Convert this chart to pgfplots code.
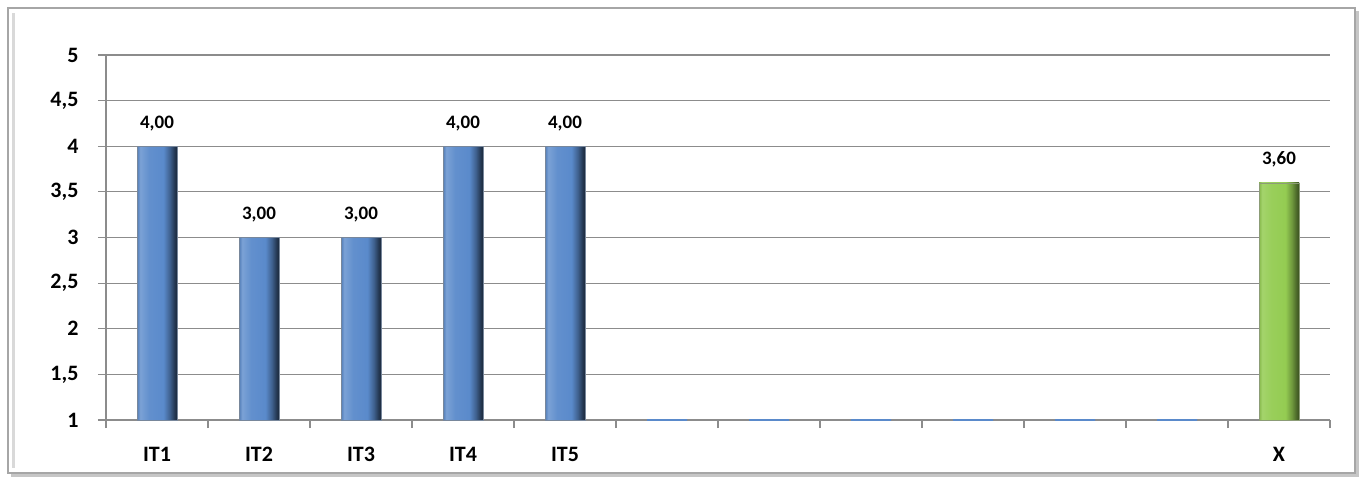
\documentclass[border=0pt]{standalone}
\usepackage{pgfplots}
\pgfplotsset{compat=1.18}
\usepackage{fontspec}
\setmainfont{Carlito}
\definecolor{gridgray}{HTML}{8C8C8C}
\definecolor{barmid}{HTML}{5A8ACB}
\definecolor{bardark}{HTML}{1E3758}
\definecolor{grnmid}{HTML}{94CC52}
\definecolor{grndark}{HTML}{3F5A1C}

% bevel-like shadings, path is mapped onto 25bp..75bp
\pgfdeclarehorizontalshading{bluebevel}{100bp}{
  color(0bp)=(barmid!90!black); color(25bp)=(barmid!90!black);
  color(29bp)=(barmid!80!white); color(40bp)=(barmid!95!white);
  color(58bp)=(barmid); color(66bp)=(barmid!70!black);
  color(72bp)=(barmid!40!black); color(75bp)=(barmid!30!black);
  color(100bp)=(barmid!30!black)}
\pgfdeclarehorizontalshading{greenbevel}{100bp}{
  color(0bp)=(grnmid!90!black); color(25bp)=(grnmid!90!black);
  color(29bp)=(grnmid!85!white); color(40bp)=(grnmid!95!white);
  color(58bp)=(grnmid); color(66bp)=(grnmid!75!black);
  color(72bp)=(grnmid!50!black); color(75bp)=(grnmid!40!black);
  color(100bp)=(grnmid!40!black)}

\pgfplotsset{
  bluebar/.style={bar shift=0pt, draw=bardark!60, line width=0.4pt,
    shading=bluebevel, nodes near coords},
  greenbar/.style={bar shift=0pt, draw=grndark!60, line width=0.4pt,
    shading=greenbevel, nodes near coords},
}

\begin{document}
\begin{tikzpicture}[x=1pt,y=1pt]
  % page and frame
  \path (0,0) rectangle (1367,-480);
  \fill[gray!45] (11,-11) rectangle (1359,-477);
  \fill[white] (8,-8) rectangle (1355,-473);
  \draw[gray!70, line width=1.6pt] (8,-8) rectangle (1355,-473);
  \draw[gray!30, line width=3pt] (13,-13) -- (13,-468);

  \begin{axis}[
      at={(106pt,-420pt)}, anchor=south west,
      scale only axis,
      width=1224pt, height=365pt,
      ybar, bar width=40pt,
      xmin=-0.5, xmax=11.5,
      ymin=1, ymax=5,
      ytick={1,1.5,...,5},
      xtick={0,...,11},
      xticklabels={IT1,IT2,IT3,IT4,IT5,,,,,,,X},
      minor xtick={-0.5,0.5,...,11.5},
      major x tick style={draw=none},
      minor tick length=8pt,
      major tick length=8pt,
      tick align=outside,
      tick style={gridgray, line width=1.2pt},
      axis x line*=bottom, axis y line*=left,
      axis line style={gridgray, line width=1.2pt, -},
      ymajorgrids,
      grid style={gridgray, line width=1.2pt},
      /pgf/number format/use comma,
      /pgf/number format/assume math mode=true,
      ticklabel style={font=\bfseries\fontsize{22}{22}\selectfont, text=black},
      xticklabel style={yshift=-16pt},
      yticklabel style={xshift=-16pt},
      nodes near coords style={font=\bfseries\fontsize{19}{19}\selectfont, text=black, yshift=12pt,
        /pgf/number format/.cd, fixed, fixed zerofill, precision=2, use comma},
      clip=false,
    ]
    \addplot[bluebar] coordinates {(0,4)};
    \addplot[bluebar] coordinates {(1,3)};
    \addplot[bluebar] coordinates {(2,3)};
    \addplot[bluebar] coordinates {(3,4)};
    \addplot[bluebar] coordinates {(4,4)};
    \addplot[bar shift=0pt, draw=barmid, line width=1.5pt, fill=barmid]
      coordinates {(5,1) (6,1) (7,1) (8,1) (9,1) (10,1)};
    \addplot[greenbar] coordinates {(11,3.6)};
  \end{axis}
\end{tikzpicture}
\end{document}
